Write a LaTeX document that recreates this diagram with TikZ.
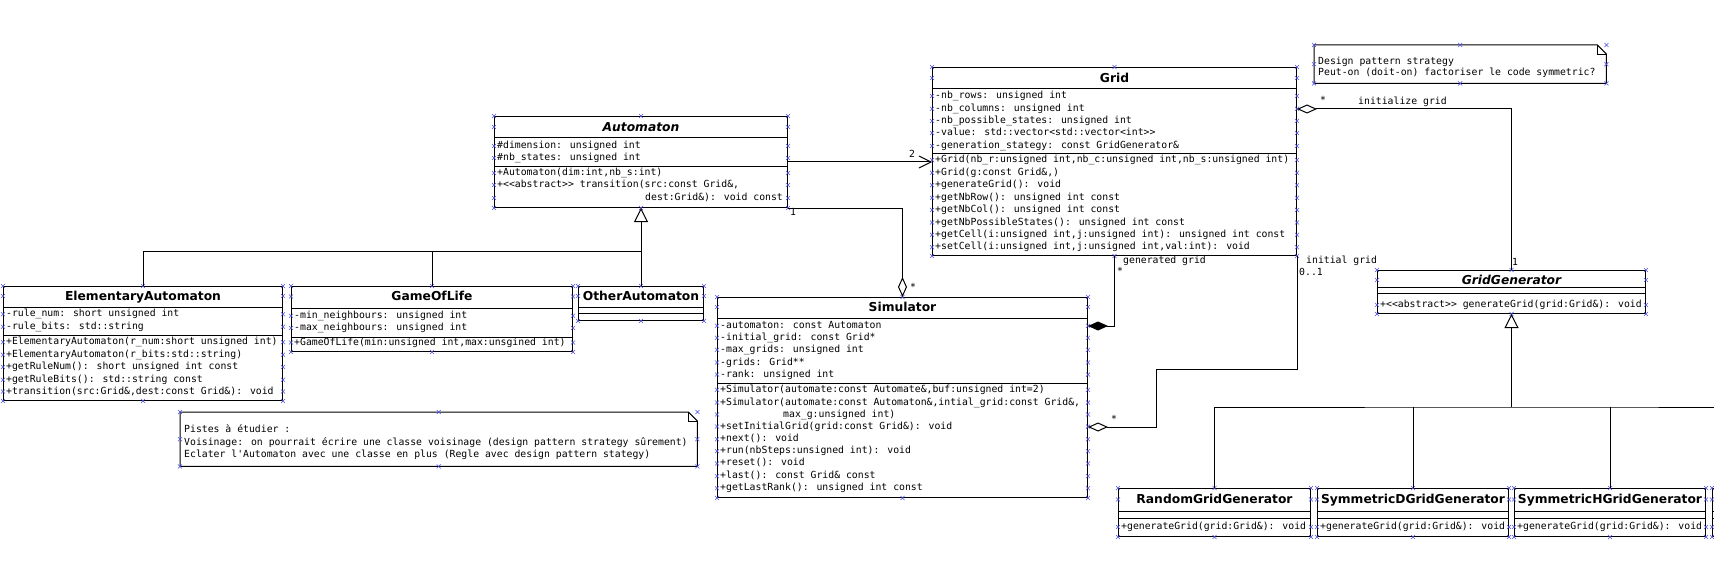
\documentclass[tikz,border=0pt]{standalone}
\usepackage{fontspec}
\newfontfamily\monof{DejaVu Sans Mono}
\newfontfamily\titlef{DejaVu Sans}
\usetikzlibrary{arrows.meta,calc}
\newcounter{tn}
\definecolor{hcol}{RGB}{80,80,230}
\tikzset{
 box/.style={draw, line width=1pt, inner sep=0pt, anchor=north west},
 txt/.style={anchor=west, inner sep=0pt, font=\monof\fontsize{9.8}{12}\selectfont, text height=7.4pt, text depth=2.4pt},
 ttl/.style={anchor=center, inner sep=0pt, font=\titlef\bfseries\fontsize{12.3}{14}\selectfont, text height=9pt, text depth=0.5pt},
 ttli/.style={ttl, font=\titlef\bfseries\itshape\fontsize{12.3}{14}\selectfont},
 handle/.style={draw=hcol, line width=0.55pt},
 conn/.style={line width=1pt},
 inh/.style={conn, {Triangle[open, length=14pt, width=14pt]}-},
 agg/.style={conn, {Diamond[open, length=20pt, width=9pt]}-},
 comp/.style={conn, {Diamond[length=20pt, width=9pt]}-},
 nav/.style={conn, -{Straight Barb[length=12pt, width=12pt]}},
}
\newcommand\hx[1]{\draw[handle] (#1) +(-2,-2) -- +(2,2) +(-2,2) -- +(2,-2);}
\newcommand\mkbox[5]{\node[box, minimum width={#4pt-#2pt}, minimum height={#5pt-#3pt}] (#1) at (#2,#3) {};
 \hx{#1.north west}\hx{#1.north}\hx{#1.north east}\hx{#1.south west}\hx{#1.south}\hx{#1.south east}}
\newcommand\csep[2]{\draw[line width=1pt] (#1.west |- 0,#2) -- (#1.east |- 0,#2);}
\newcommand\crow[3]{\stepcounter{tn}\node[txt] (t\arabic{tn}) at ($(#1.west |- 0,#2)+(3,0)$) {#3};\hx{#1.west |- 0,#2}\hx{#1.east |- 0,#2}}
\newcommand\crowx[4]{\stepcounter{tn}\node[txt] (t\arabic{tn}) at (#3,#2) {#4};\hx{#1.west |- 0,#2}\hx{#1.east |- 0,#2}}
\newcommand\ctitle[4][ttl]{\stepcounter{tn}\node[#1] (t\arabic{tn}) at (#2.north |- 0,#3) {#4};\hx{#2.west |- 0,#3}\hx{#2.east |- 0,#3}}
\begin{document}
\begin{tikzpicture}[x=1pt,y=-1pt]
\fill[white] (0,0) rectangle (1714,567);
\useasboundingbox (0,0) rectangle (1714,567);

% ---------- Automaton
\mkbox{automaton}{494}{116}{787}{207}
\ctitle[ttli]{automaton}{127}{Automaton}
\csep{automaton}{138}\csep{automaton}{167}
\crow{automaton}{146}{\#dimension: unsigned int}
\crow{automaton}{158}{\#nb\_states: unsigned int}
\crow{automaton}{173}{+Automaton(dim:int,nb\_s:int)}
\crow{automaton}{185}{+<<abstract>> transition(src:const Grid\&,}
\crowx{automaton}{198}{645}{dest:Grid\&): void const}

% ---------- Grid
\mkbox{grid}{932}{67}{1296}{255}
\ctitle{grid}{78}{Grid}
\csep{grid}{89}\csep{grid}{154}
\crow{grid}{96}{-nb\_rows: unsigned int}
\crow{grid}{108.7}{-nb\_columns: unsigned int}
\crow{grid}{121}{-nb\_possible\_states: unsigned int}
\crow{grid}{133}{-value: std::vector<std::vector<int>>}
\crow{grid}{146}{-generation\_stategy: const GridGenerator\&}
\crow{grid}{160}{+Grid(nb\_r:unsigned int,nb\_c:unsigned int,nb\_s:unsigned int)}
\crow{grid}{172.7}{+Grid(g:const Grid\&,)}
\crow{grid}{185.3}{+generateGrid(): void}
\crow{grid}{197.7}{+getNbRow(): unsigned int const}
\crow{grid}{209.9}{+getNbCol(): unsigned int const}
\crow{grid}{222.5}{+getNbPossibleStates(): unsigned int const}
\crow{grid}{234.7}{+getCell(i:unsigned int,j:unsigned int): unsigned int const}
\crow{grid}{247.2}{+setCell(i:unsigned int,j:unsigned int,val:int): void}

% ---------- ElementaryAutomaton
\mkbox{elem}{3}{286}{282}{400}
\ctitle{elem}{296}{ElementaryAutomaton}
\csep{elem}{307}\csep{elem}{335}
\crow{elem}{314.3}{-rule\_num: short unsigned int}
\crow{elem}{326.7}{-rule\_bits: std::string}
\crow{elem}{342.3}{+ElementaryAutomaton(r\_num:short unsigned int)}
\crow{elem}{354.7}{+ElementaryAutomaton(r\_bits:std::string)}
\crow{elem}{367}{+getRuleNum(): short unsigned int const}
\crow{elem}{379.7}{+getRuleBits(): std::string const}
\crow{elem}{391.5}{+transition(src:Grid\&,dest:const Grid\&): void}

% ---------- GameOfLife
\mkbox{gol}{291}{286}{572}{351}
\ctitle{gol}{296.5}{GameOfLife}
\csep{gol}{308}\csep{gol}{337}
\crow{gol}{315.7}{-min\_neighbours: unsigned int}
\crow{gol}{327.9}{-max\_neighbours: unsigned int}
\crow{gol}{342.5}{+GameOfLife(min:unsigned int,max:unsgined int)}

% ---------- OtherAutomaton
\mkbox{other}{578}{286}{703}{320}
\ctitle{other}{296}{OtherAutomaton}
\csep{other}{307}\csep{other}{313}

% ---------- Simulator
\mkbox{sim}{717}{297}{1087}{497}
\ctitle{sim}{307}{Simulator}
\csep{sim}{318}\csep{sim}{383}
\crow{sim}{325.8}{-automaton: const Automaton}
\crow{sim}{337.8}{-initial\_grid: const Grid*}
\crow{sim}{349.8}{-max\_grids: unsigned int}
\crow{sim}{362.5}{-grids: Grid**}
\crow{sim}{374.6}{-rank: unsigned int}
\crow{sim}{389.8}{+Simulator(automate:const Automate\&,buf:unsigned int=2)}
\crow{sim}{402.6}{+Simulator(automate:const Automaton\&,intial\_grid:const Grid\&,}
\crowx{sim}{414.5}{783}{max\_g:unsigned int)}
\crow{sim}{426.6}{+setInitialGrid(grid:const Grid\&): void}
\crow{sim}{439.3}{+next(): void}
\crow{sim}{451.2}{+run(nbSteps:unsigned int): void}
\crow{sim}{463.4}{+reset(): void}
\crow{sim}{476.2}{+last(): const Grid\& const}
\crow{sim}{488.3}{+getLastRank(): unsigned int const}

% ---------- GridGenerator
\mkbox{gridgen}{1377}{270}{1645}{313}
\ctitle[ttli]{gridgen}{280}{GridGenerator}
\csep{gridgen}{287}\csep{gridgen}{293}
\crow{gridgen}{305}{+<<abstract>> generateGrid(grid:Grid\&): void}

% ---------- generators
\mkbox{rgen}{1118}{488}{1310}{536}
\ctitle{rgen}{499.5}{RandomGridGenerator}
\csep{rgen}{511}\csep{rgen}{518}
\crow{rgen}{527}{+generateGrid(grid:Grid\&): void}

\mkbox{sdgen}{1317}{488}{1508}{536}
\ctitle{sdgen}{499.5}{SymmetricDGridGenerator}
\csep{sdgen}{511}\csep{sdgen}{518}
\crow{sdgen}{527}{+generateGrid(grid:Grid\&): void}

\mkbox{shgen}{1514}{488}{1705}{536}
\ctitle{shgen}{499.5}{SymmetricHGridGenerator}
\csep{shgen}{511}\csep{shgen}{518}
\crow{shgen}{527}{+generateGrid(grid:Grid\&): void}

\mkbox{gen4}{1712}{488}{1903}{536}
\csep{gen4}{511}\csep{gen4}{518}
\hx{gen4.west |- 0,499.5}\hx{gen4.west |- 0,527}

% ---------- notes
\node[anchor=north west, inner sep=0pt, minimum width=517pt, minimum height=54pt] (note1) at (180,412) {};
\draw[line width=1pt] (note1.north west) -- ($(note1.north east)+(-9,0)$) -- ($(note1.north east)+(0,9)$) -- (note1.south east) -- (note1.south west) -- cycle;
\draw[line width=0.8pt] ($(note1.north east)+(-9,0)$) -- ($(note1.north east)+(-9,9)$) -- ($(note1.north east)+(0,9)$);
\hx{note1.north west}\hx{note1.north}\hx{note1.north east}\hx{note1.south west}\hx{note1.south}\hx{note1.south east}\hx{note1.west}\hx{note1.east}
\node[txt] (n1a) at (184,430) {Pistes à étudier :};
\node[txt] (n1b) at (184,442.5) {Voisinage: on pourrait écrire une classe voisinage (design pattern strategy sûrement)};
\node[txt] (n1c) at (184,455) {Eclater l'Automaton avec une classe en plus (Regle avec design pattern stategy)};

\node[anchor=north west, inner sep=0pt, minimum width=292pt, minimum height=38pt] (note2) at (1314,45) {};
\draw[line width=1pt] (note2.north west) -- ($(note2.north east)+(-9,0)$) -- ($(note2.north east)+(0,9)$) -- (note2.south east) -- (note2.south west) -- cycle;
\draw[line width=0.8pt] ($(note2.north east)+(-9,0)$) -- ($(note2.north east)+(-9,9)$) -- ($(note2.north east)+(0,9)$);
\hx{note2.north west}\hx{note2.north}\hx{note2.north east}\hx{note2.south west}\hx{note2.south}\hx{note2.south east}\hx{note2.west}\hx{note2.east}
\node[txt] (n2a) at (1318,62.5) {Design pattern strategy};
\node[txt] (n2b) at (1318,73) {Peut-on (doit-on) factoriser le code symmetric?};

% ---------- connectors
\draw[nav] (automaton.east |- 0,162) -- (grid.west |- 0,162);
\node[txt] (m2) at (909,155) {2};

\draw[agg] (sim.north) -- (sim.north |- automaton.south) -- (automaton.south east);
\node[txt] (m1a) at (790,213) {1};
\node[txt] (m1b) at (910,288) {*};

\draw[inh] (automaton.south) -- (other.north);
\coordinate (ajoin) at (other.north |- 0,251);
\draw[conn] (elem.north) |- (ajoin);
\draw[conn] (gol.north) -- (gol.north |- ajoin);

\draw[agg] (grid.east |- 0,109) -| (gridgen.north);
\node[txt] (m3) at (1320,101) {*};
\node[txt] (l1) at (1358,102) {initialize grid};
\node[txt] (m4) at (1512,263) {1};

\draw[comp] (sim.east |- 0,326) -| (grid.south);
\node[txt] (l2) at (1123,261) {generated grid};
\node[txt] (m5) at (1117,272) {*};

\draw[agg] (sim.east |- 0,427) -| (1156,369) -| (grid.south east);
\node[txt] (m6) at (1111,420) {*};
\node[txt] (l3) at (1306,261) {initial grid};
\node[txt] (m7) at (1299,273) {0..1};

\coordinate (gjoin) at (gridgen.south |- 0,407);
\draw[inh] (gridgen.south) -- (gjoin);
\draw[conn] (rgen.north) |- (gjoin) -| (gen4.north);
\draw[conn] (sdgen.north) -- (sdgen.north |- gjoin);
\draw[conn] (shgen.north) -- (shgen.north |- gjoin);
\end{tikzpicture}
\end{document}
